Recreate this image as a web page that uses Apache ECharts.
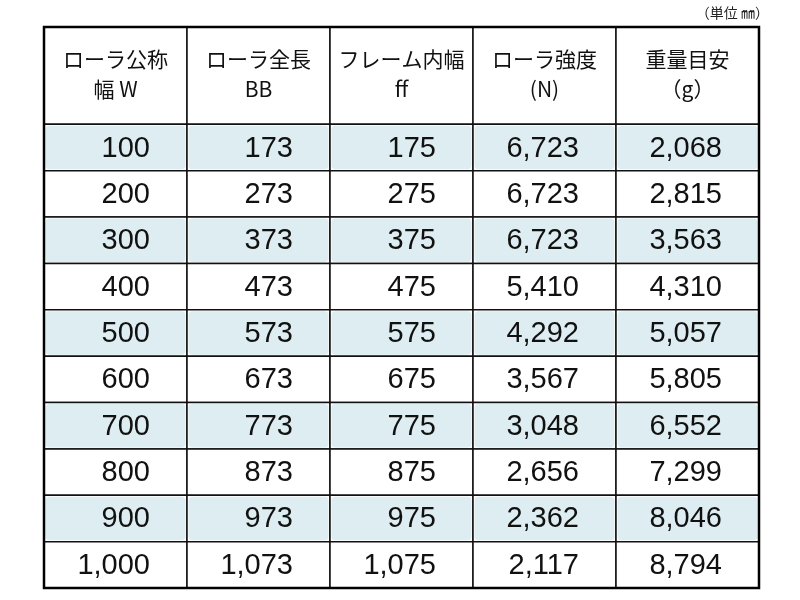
<!DOCTYPE html>
<html>
<head>
<meta charset="utf-8">
<script src="https://cdn.jsdelivr.net/npm/echarts@6/dist/echarts.min.js"></script>
<style>html,body{margin:0;padding:0;background:#fff}#chart{width:800px;height:600px}</style>
</head>
<body>
<div id="chart"></div>
<script>
var headers = ['ローラ公称\n幅 W', 'ローラ全長\nBB', 'フレーム内幅\nff', 'ローラ強度\n(N)', '重量目安\n（g）'];
var widthW = ['100', '200', '300', '400', '500', '600', '700', '800', '900', '1,000'];
var lengthBB = ['173', '273', '373', '473', '573', '673', '773', '873', '973', '1,073'];
var frameFF = ['175', '275', '375', '475', '575', '675', '775', '875', '975', '1,075'];
var strengthN = ['6,723', '6,723', '6,723', '5,410', '4,292', '3,567', '3,048', '2,656', '2,362', '2,117'];
var weightG = ['2,068', '2,815', '3,563', '4,310', '5,057', '5,805', '6,552', '7,299', '8,046', '8,794'];

var HEAD = 2.1;
var columns = [widthW, lengthBB, frameFF, strengthN, weightG];
var cells = [];
headers.forEach(function (h, c) {
    cells.push({value: [c, 0, HEAD], text: h, head: true, shade: false});
});
columns.forEach(function (col, c) {
    col.forEach(function (v, r) {
        cells.push({value: [c, HEAD + r, HEAD + r + 1], text: v, head: false, shade: r % 2 === 0});
    });
});

var chart = echarts.init(document.getElementById('chart'));
chart.setOption({
    title: {
        text: '（単位 ㎜）', right: 26, top: 1,
        textStyle: {fontSize: 14, fontWeight: 'normal', color: '#222', fontFamily: 'Noto Sans CJK JP'}
    },
    grid: {left: 44, right: 41, top: 27, bottom: 12, show: true, borderColor: '#000', borderWidth: 2.5, z: 10},
    xAxis: {type: 'value', min: 0, max: 5, show: false},
    yAxis: {type: 'value', min: 0, max: HEAD + 10, inverse: true, show: false},
    series: [{
        type: 'custom',
        data: cells,
        renderItem: function (params, api) {
            var item = cells[params.dataIndex];
            var p0 = api.coord([api.value(0), api.value(1)]);
            var p1 = api.coord([api.value(0) + 1, api.value(2)]);
            var w = p1[0] - p0[0], h = p1[1] - p0[1];
            var children = [{
                type: 'rect',
                shape: {x: p0[0], y: p0[1], width: w, height: h},
                style: {fill: '#fff', stroke: '#111', lineWidth: 1.5}
            }];
            if (item.shade) {
                children.push({
                    type: 'rect',
                    shape: {x: p0[0] + 1.5, y: p0[1] + 1.5, width: w - 3, height: h - 3, r: 4},
                    style: {fill: '#deedf1'}
                });
            }
            children.push({
                type: 'text',
                style: item.head ? {
                    x: p0[0] + w / 2, y: p0[1] + h / 2 - 2, text: item.text,
                    align: 'center', verticalAlign: 'middle', lineHeight: 30,
                    font: '21px "Noto Sans CJK JP"', fill: '#111'
                } : {
                    x: p1[0] - 37, y: p0[1] + h / 2 + 1, text: item.text,
                    align: 'right', verticalAlign: 'middle',
                    font: '29px "Liberation Sans", Arial, sans-serif', fill: '#111'
                }
            });
            return {type: 'group', children: children};
        }
    }]
});
</script>
</body>
</html>
